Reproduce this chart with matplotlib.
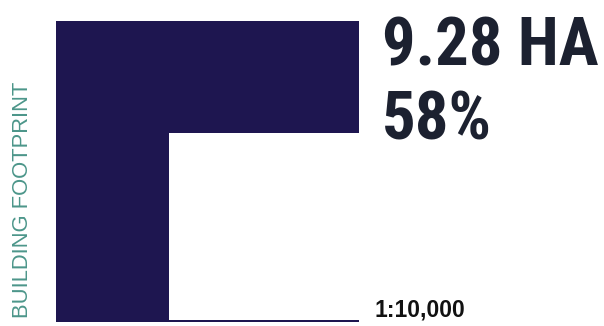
import matplotlib
matplotlib.use("Agg")
import matplotlib.pyplot as plt

# data
total_side = 1.0          # outer square = whole site
open_side_x = 0.627       # white square (unbuilt)
open_side_y = 0.621
base_gap = 0.007
area_label = "9.28 HA"
share_label = "58%"
scale_label = "1:10,000"
axis_label = "BUILDING FOOTPRINT"

navy = "#1e1650"
text_dark = "#1c2130"
teal = "#4c968a"

fig = plt.figure(figsize=(6.04, 3.26), dpi=100)
ax = fig.add_axes([56 / 604, 4 / 326, 303 / 604, 301 / 326])
ax.bar(0, total_side, width=total_side, align="edge", color=navy, linewidth=0)
ax.bar(total_side - open_side_x, open_side_y, width=open_side_x, bottom=base_gap,
       align="edge", color="white", linewidth=0)
ax.set_xlim(0, total_side)
ax.set_ylim(0, total_side)
ax.axis("off")

fig.text(382 / 604, 1 - 65 / 326, area_label, fontsize=48, fontweight="bold",
         family="Roboto Condensed", color=text_dark, ha="left", va="baseline")
fig.text(382 / 604, 1 - 140 / 326, share_label, fontsize=48, fontweight="bold",
         family="Roboto Condensed", color=text_dark, ha="left", va="baseline")
fig.text(374 / 604, 1 - 316.5 / 326, scale_label, fontsize=16.5, fontweight="bold",
         family="Liberation Sans", color="#111111", ha="left", va="baseline")
fig.text(33 / 604, 1 - 318 / 326, axis_label, fontsize=15.8, rotation=90,
         family="Liberation Sans", color=teal, ha="right", va="bottom")

fig.savefig("out.png", dpi=100)
